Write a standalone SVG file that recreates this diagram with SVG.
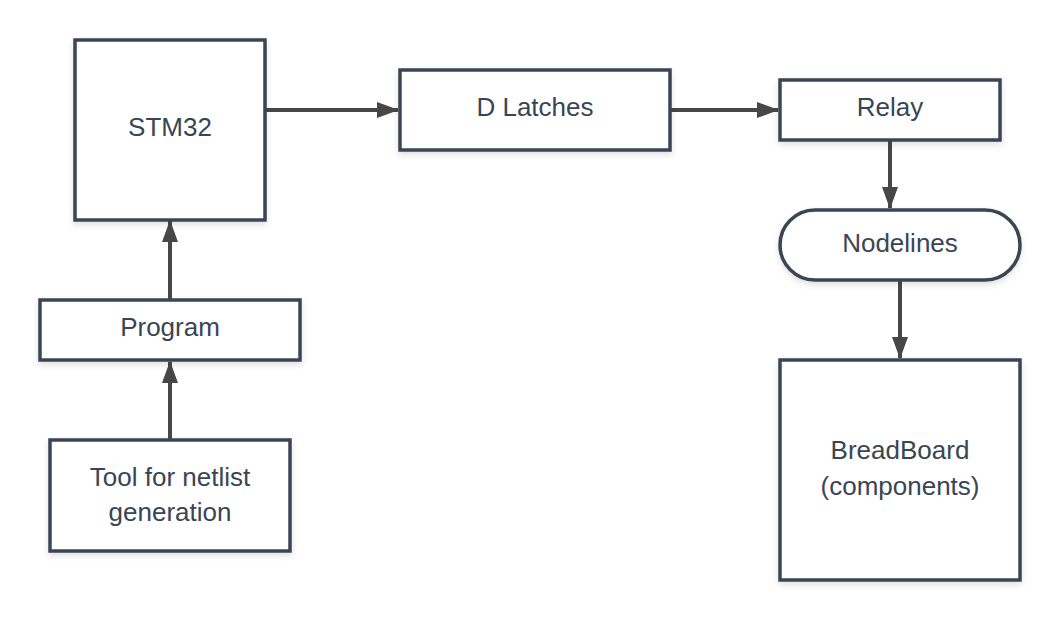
<svg xmlns="http://www.w3.org/2000/svg" width="1060" height="620" viewBox="0 0 1060 620">
<style>
.box{fill:#ffffff;stroke:#3a4554;stroke-width:3.5;filter:url(#sh)}
.lbl{font-family:"Liberation Sans",Arial,sans-serif;font-size:26px;fill:#3a4554;text-anchor:middle;dominant-baseline:central}
.conn{stroke:#474747;stroke-width:4;fill:none;marker-end:url(#ah)}
</style>
<defs>
<filter id="sh" x="-10%" y="-10%" width="130%" height="130%">
<feDropShadow dx="0" dy="3" stdDeviation="3" flood-color="#000" flood-opacity="0.12"/>
</filter>
<marker id="ah" markerUnits="userSpaceOnUse" markerWidth="22" markerHeight="16" refX="21" refY="8" orient="auto">
<path d="M0,0 L22,8 L0,16 Z" fill="#474747"/>
</marker>
</defs>
<rect width="1060" height="620" fill="#ffffff"/>
<g id="connectors">
<path class="conn" d="M266,110 L398,110"/>
<path class="conn" d="M671,110 L778,110"/>
<path class="conn" d="M890,141 L890,208"/>
<path class="conn" d="M900,280 L900,358"/>
<path class="conn" d="M170,299 L170,221"/>
<path class="conn" d="M170,439 L170,362"/>
</g>
<g id="stm32"><rect class="box" x="75" y="40" width="190" height="180"/><text class="lbl" x="170" y="127">STM32</text></g>
<g id="dlatches"><rect class="box" x="400" y="70" width="270" height="80"/><text class="lbl" x="535" y="107">D Latches</text></g>
<g id="relay"><rect class="box" x="780" y="80" width="220" height="60"/><text class="lbl" x="890" y="107">Relay</text></g>
<g id="nodelines"><rect class="box" x="780" y="210" width="240" height="70" rx="35" ry="35"/><text class="lbl" x="900" y="243">Nodelines</text></g>
<g id="breadboard"><rect class="box" x="780" y="360" width="240" height="220"/><text class="lbl" x="900" y="450">BreadBoard</text><text class="lbl" x="900" y="486">(components)</text></g>
<g id="program"><rect class="box" x="40" y="300" width="260" height="60"/><text class="lbl" x="170" y="327">Program</text></g>
<g id="tool"><rect class="box" x="50" y="440" width="240" height="111"/><text class="lbl" x="170" y="477">Tool for netlist</text><text class="lbl" x="170" y="512">generation</text></g>
</svg>
